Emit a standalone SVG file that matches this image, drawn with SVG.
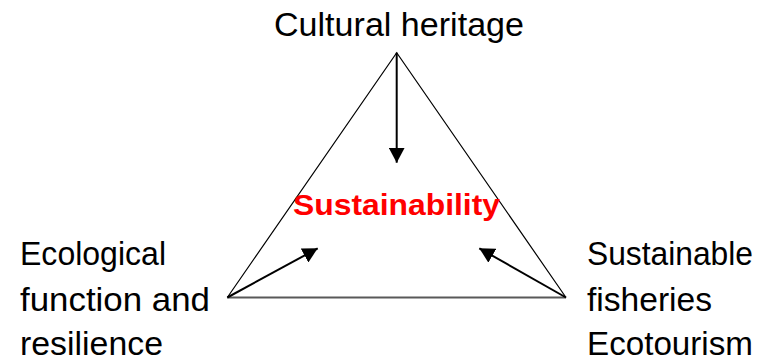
<svg xmlns="http://www.w3.org/2000/svg" width="766" height="361" viewBox="0 0 766 361">
  <style>
    .label { font-family: "Liberation Sans", Arial, sans-serif; font-size: 33px; fill: #000; }
    .core { font-family: "Liberation Sans", Arial, sans-serif; font-size: 30px; font-weight: bold; fill: #ff0000; }
    .edge { fill: none; stroke: #000; stroke-width: 1.2; }
    .base { fill: none; stroke: #595959; stroke-width: 2.2; }
    .arrow { fill: none; stroke: #000; stroke-width: 2; marker-end: url(#tri); }
  </style>
  <defs>
    <marker id="tri" viewBox="0 0 15 16" refX="15" refY="8" markerWidth="15" markerHeight="16" markerUnits="userSpaceOnUse" orient="auto">
      <path d="M0,0 L15,8 L0,16 Z" fill="#000"/>
    </marker>
  </defs>
  <rect width="766" height="361" fill="#fff"/>

  <!-- triangle frame -->
  <g id="frame">
    <path class="edge" d="M227.3,297.5 L396.7,52.7 L566,297.5"/>
    <path class="base" d="M227.3,297.5 L566,297.5"/>
  </g>

  <!-- connectors -->
  <g id="connectors">
    <path class="arrow" d="M396.7,52.7 L396.7,162.7"/>
    <path class="arrow" d="M227.3,297.5 L317.7,248.3"/>
    <path class="arrow" d="M566,297.5 L479.3,248.3"/>
  </g>

  <g id="node-culture">
    <text class="label" x="274" y="36" textLength="250" lengthAdjust="spacingAndGlyphs">Cultural heritage</text>
  </g>

  <g id="node-sustainability">
    <text class="core" x="293" y="215" textLength="207" lengthAdjust="spacingAndGlyphs">Sustainability</text>
  </g>

  <g id="node-ecology">
    <text class="label" x="20" y="265" textLength="146" lengthAdjust="spacingAndGlyphs">Ecological</text>
    <text class="label" x="20" y="311" textLength="190" lengthAdjust="spacingAndGlyphs">function and</text>
    <text class="label" x="20" y="355" textLength="143" lengthAdjust="spacingAndGlyphs">resilience</text>
  </g>

  <g id="node-economy">
    <text class="label" x="587" y="265" textLength="166" lengthAdjust="spacingAndGlyphs">Sustainable</text>
    <text class="label" x="587" y="311" textLength="125" lengthAdjust="spacingAndGlyphs">fisheries</text>
    <text class="label" x="587" y="355" textLength="166" lengthAdjust="spacingAndGlyphs">Ecotourism</text>
  </g>
</svg>
